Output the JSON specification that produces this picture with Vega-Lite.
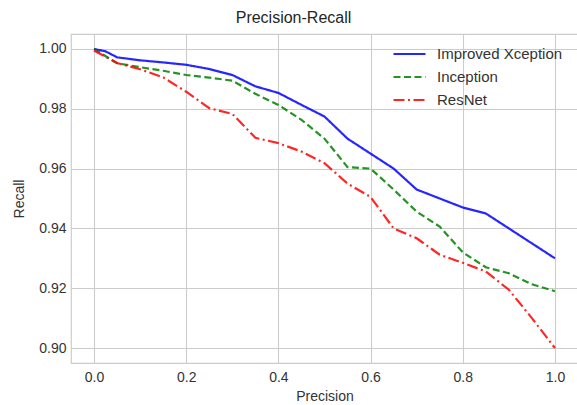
{
  "$schema": "https://vega.github.io/schema/vega-lite/v6.json",
  "autosize": {"type": "none"},
  "width": 507,
  "height": 329,
  "padding": {"left": 71, "top": 34, "right": 0, "bottom": 42},
  "background": "white",
  "title": {"text": "Precision-Recall", "fontSize": 16, "fontWeight": "normal", "font": "Liberation Sans", "color": "#262626", "anchor": "middle", "dx": -31, "offset": 8},
  "config": {
    "view": {"stroke": "#cccccc", "strokeWidth": 1.2},
    "font": "Liberation Sans",
    "axis": {
      "grid": true, "gridColor": "#cccccc", "gridWidth": 1.1, "domain": false, "ticks": false,
      "labelFont": "Liberation Sans", "labelFontSize": 14, "labelColor": "#333333",
      "titleFont": "Liberation Sans", "titleFontSize": 14, "titleFontWeight": "normal", "titleColor": "#333333"
    },
    "legend": {
      "orient": "none", "legendX": 321, "legendY": 8.7, "padding": 0,
      "labelFont": "Liberation Sans", "labelFontSize": 15, "labelColor": "#333333",
      "symbolType": "stroke", "symbolSize": 1024, "symbolStrokeWidth": 2.2,
      "labelOffset": 10, "rowPadding": 0, "clipHeight": 22.6, "title": null
    }
  },
  "data": {"values": [
    {"model": "Improved Xception", "precision": 0, "recall": 1.000},
    {"model": "Improved Xception", "precision": 0.025, "recall": 0.9992},
    {"model": "Improved Xception", "precision": 0.05, "recall": 0.9972},
    {"model": "Improved Xception", "precision": 0.1, "recall": 0.9962},
    {"model": "Improved Xception", "precision": 0.15, "recall": 0.9955},
    {"model": "Improved Xception", "precision": 0.2, "recall": 0.9947},
    {"model": "Improved Xception", "precision": 0.25, "recall": 0.9933},
    {"model": "Improved Xception", "precision": 0.3, "recall": 0.9913},
    {"model": "Improved Xception", "precision": 0.35, "recall": 0.9875},
    {"model": "Improved Xception", "precision": 0.4, "recall": 0.9853},
    {"model": "Improved Xception", "precision": 0.45, "recall": 0.9813},
    {"model": "Improved Xception", "precision": 0.5, "recall": 0.9774},
    {"model": "Improved Xception", "precision": 0.55, "recall": 0.970},
    {"model": "Improved Xception", "precision": 0.6, "recall": 0.965},
    {"model": "Improved Xception", "precision": 0.65, "recall": 0.960},
    {"model": "Improved Xception", "precision": 0.7, "recall": 0.953},
    {"model": "Improved Xception", "precision": 0.75, "recall": 0.950},
    {"model": "Improved Xception", "precision": 0.8, "recall": 0.947},
    {"model": "Improved Xception", "precision": 0.85, "recall": 0.945},
    {"model": "Improved Xception", "precision": 0.9, "recall": 0.940},
    {"model": "Improved Xception", "precision": 0.95, "recall": 0.935},
    {"model": "Improved Xception", "precision": 1.0, "recall": 0.930},
    {"model": "Inception", "precision": 0, "recall": 1.000},
    {"model": "Inception", "precision": 0.05, "recall": 0.9952},
    {"model": "Inception", "precision": 0.1, "recall": 0.9939},
    {"model": "Inception", "precision": 0.15, "recall": 0.9927},
    {"model": "Inception", "precision": 0.2, "recall": 0.9913},
    {"model": "Inception", "precision": 0.25, "recall": 0.9904},
    {"model": "Inception", "precision": 0.3, "recall": 0.9894},
    {"model": "Inception", "precision": 0.35, "recall": 0.985},
    {"model": "Inception", "precision": 0.4, "recall": 0.9813},
    {"model": "Inception", "precision": 0.45, "recall": 0.9763},
    {"model": "Inception", "precision": 0.5, "recall": 0.970},
    {"model": "Inception", "precision": 0.55, "recall": 0.9605},
    {"model": "Inception", "precision": 0.6, "recall": 0.960},
    {"model": "Inception", "precision": 0.65, "recall": 0.953},
    {"model": "Inception", "precision": 0.7, "recall": 0.9456},
    {"model": "Inception", "precision": 0.75, "recall": 0.9406},
    {"model": "Inception", "precision": 0.8, "recall": 0.932},
    {"model": "Inception", "precision": 0.85, "recall": 0.927},
    {"model": "Inception", "precision": 0.9, "recall": 0.925},
    {"model": "Inception", "precision": 0.95, "recall": 0.9213},
    {"model": "Inception", "precision": 1.0, "recall": 0.919},
    {"model": "ResNet", "precision": 0, "recall": 0.9995},
    {"model": "ResNet", "precision": 0.05, "recall": 0.9953},
    {"model": "ResNet", "precision": 0.1, "recall": 0.9932},
    {"model": "ResNet", "precision": 0.15, "recall": 0.9905},
    {"model": "ResNet", "precision": 0.2, "recall": 0.9857},
    {"model": "ResNet", "precision": 0.25, "recall": 0.9802},
    {"model": "ResNet", "precision": 0.3, "recall": 0.9783},
    {"model": "ResNet", "precision": 0.35, "recall": 0.9703},
    {"model": "ResNet", "precision": 0.4, "recall": 0.9685},
    {"model": "ResNet", "precision": 0.45, "recall": 0.9657},
    {"model": "ResNet", "precision": 0.5, "recall": 0.9618},
    {"model": "ResNet", "precision": 0.55, "recall": 0.955},
    {"model": "ResNet", "precision": 0.6, "recall": 0.9505},
    {"model": "ResNet", "precision": 0.65, "recall": 0.940},
    {"model": "ResNet", "precision": 0.7, "recall": 0.9367},
    {"model": "ResNet", "precision": 0.75, "recall": 0.9312},
    {"model": "ResNet", "precision": 0.8, "recall": 0.9285},
    {"model": "ResNet", "precision": 0.85, "recall": 0.9256},
    {"model": "ResNet", "precision": 0.9, "recall": 0.9195},
    {"model": "ResNet", "precision": 0.95, "recall": 0.910},
    {"model": "ResNet", "precision": 1.0, "recall": 0.900}
  ]},
  "mark": {"type": "line", "strokeWidth": 2.2, "opacity": 0.85},
  "encoding": {
    "x": {"field": "precision", "type": "quantitative", "title": "Precision",
      "scale": {"domain": [-0.05, 1.05], "nice": false, "zero": false},
      "axis": {"values": [0, 0.2, 0.4, 0.6, 0.8, 1.0], "format": ".1f", "labelPadding": 7, "titlePadding": 5}},
    "y": {"field": "recall", "type": "quantitative", "title": "Recall",
      "scale": {"domain": [0.895, 1.005], "nice": false, "zero": false},
      "axis": {"values": [0.90, 0.92, 0.94, 0.96, 0.98, 1.00], "format": ".2f", "labelPadding": 5, "titlePadding": 12}},
    "color": {"field": "model", "type": "nominal",
      "scale": {"domain": ["Improved Xception", "Inception", "ResNet"], "range": ["#0000ff", "#008000", "#ff0000"]}},
    "strokeDash": {"field": "model", "type": "nominal",
      "scale": {"domain": ["Improved Xception", "Inception", "ResNet"], "range": [[1, 0], [7, 3.5], [11, 3.5, 2, 3.5]]}},
    "order": {"field": "precision", "type": "quantitative"}
  }
}
